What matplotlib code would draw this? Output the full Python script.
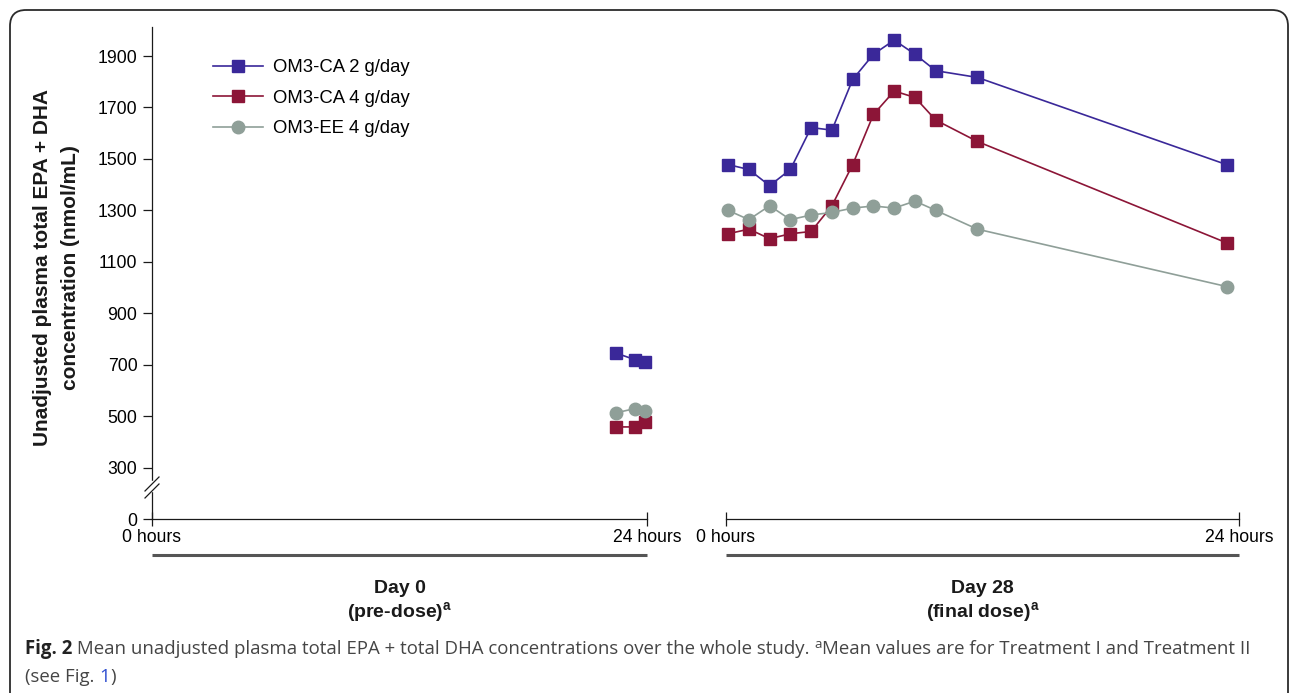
import matplotlib
matplotlib.use('Agg')
import matplotlib.pyplot as plt
from matplotlib.patches import FancyBboxPatch

plt.rcParams['font.family'] = ['Liberation Sans', 'DejaVu Sans']
plt.rcParams['mathtext.fontset'] = 'custom'
plt.rcParams['mathtext.rm'] = 'Liberation Sans'
plt.rcParams['mathtext.bf'] = 'Liberation Sans:bold'

# data
series_names = ['OM3-CA 2 g/day', 'OM3-CA 4 g/day', 'OM3-EE 4 g/day']
colors = ['#3a2899', '#8c1537', '#8f9f98']
markers = ['s', 's', 'o']

day0_hours = [22.5, 23.4, 23.9]
day0_values = [
    [745, 720, 712],
    [458, 458, 478],
    [513, 529, 521],
]

day28_hours = [0, 1, 2, 3, 4, 5, 6, 7, 8, 9, 10, 12, 24]
day28_values = [
    [1478, 1459, 1396, 1459, 1622, 1612, 1809, 1907, 1962, 1907, 1843, 1817, 1478],
    [1209, 1227, 1190, 1209, 1218, 1318, 1478, 1673, 1764, 1739, 1651, 1568, 1174],
    [1300, 1264, 1318, 1264, 1282, 1292, 1309, 1317, 1309, 1336, 1300, 1227, 1004],
]

ytick_values = [300, 500, 700, 900, 1100, 1300, 1500, 1700, 1900]
ytick_labels = ['0'] + [str(v) for v in ytick_values]
zero_pos = 100  # axis is broken: "0" sits one tick step under 300
ymax = 2013

fig = plt.figure(figsize=(12.9, 6.93), dpi=100)

# background axes in pixel units for frame, caption and group labels
bg = fig.add_axes([0, 0, 1, 1], zorder=0)
bg.set_xlim(0, 1290)
bg.set_ylim(693, 0)
bg.axis('off')
bg.add_patch(FancyBboxPatch((10, 10), 1278, 720, boxstyle='round,pad=0,rounding_size=16',
                            fill=False, ec='#2b2b2b', lw=1.3))

ax0 = fig.add_axes([152 / 1290, 174 / 693, 495 / 1290, 492 / 693], zorder=2)
ax1 = fig.add_axes([726 / 1290, 174 / 693, 513 / 1290, 492 / 693], zorder=2)

for ax in (ax0, ax1):
    ax.set_facecolor('none')
    ax.set_ylim(zero_pos, ymax)
    for s in ('top', 'right'):
        ax.spines[s].set_visible(False)
    for s in ('left', 'bottom'):
        ax.spines[s].set_linewidth(0.9)
        ax.spines[s].set_color('#1a1a1a')
    ax.tick_params(axis='x', direction='inout', length=10, width=0.9, color='#1a1a1a',
                   labelsize=12.7, pad=2)

lines = []
for i in range(3):
    ms = 9 if markers[i] == 'o' else 8
    ax0.plot(day0_hours, day0_values[i], color=colors[i], marker=markers[i], ms=ms,
             mec=colors[i], lw=1.2, clip_on=False, zorder=3)
    ln, = ax1.plot(day28_hours, day28_values[i], color=colors[i], marker=markers[i], ms=ms,
                   mec=colors[i], lw=1.2, clip_on=False, zorder=3)
    lines.append(ln)

ax0.set_xlim(0, 24)
ax0.set_xticks([0, 24], ['0 hours', '24 hours'])
ax0.set_yticks([zero_pos] + ytick_values, ytick_labels)
ax0.tick_params(axis='y', direction='out', length=6.5, width=0.9, color='#1a1a1a',
                labelsize=12.7, pad=4)

ax1.set_xlim(-0.1, 24.6)
ax1.set_xticks(ax1.get_xlim(), ['0 hours', '24 hours'])
ax1.spines['left'].set_visible(False)
ax1.set_yticks([])

# axis break marks
bg_tr = bg.transData
ax0.fill([148, 156, 156, 148], [481, 481, 491, 491], color='white', transform=bg_tr,
         clip_on=False, zorder=5)
for dy in (0, 7):
    ax0.plot([145, 159], [491 + dy, 477 + dy], color='#1a1a1a', lw=0.9,
             transform=bg_tr, clip_on=False, zorder=6)

ax0.legend(lines, series_names, loc='upper left', bbox_to_anchor=(0.123, 0.935),
           frameon=False, fontsize=13.3, handlelength=2.7, handletextpad=0.55,
           labelspacing=0.74, borderaxespad=0, borderpad=0)

bg.text(57, 268, 'Unadjusted plasma total EPA + DHA\nconcentration (nmol/mL)',
        rotation=90, ha='center', va='center', fontsize=15, fontweight='bold',
        linespacing=1.6, color='#1a1a1a')

# group underlines and labels
for ax, title, sub in ((ax0, 'Day 0', '(pre-dose)$^{\\mathbf{a}}$'),
                       (ax1, 'Day 28', '(final dose)$^{\\mathbf{a}}$')):
    ax.plot([0, 1], [-0.073, -0.073], transform=ax.transAxes, color='#555555', lw=2.2,
            clip_on=False, solid_capstyle='butt')
    ax.text(0.5, -0.141, title, transform=ax.transAxes, ha='center', va='center',
            fontsize=14, fontweight='bold', color='#1a1a1a')
    ax.text(0.5, -0.19, sub, transform=ax.transAxes, ha='center', va='center',
            fontsize=14, fontweight='bold', color='#1a1a1a')

# caption
fig.canvas.draw()
renderer = fig.canvas.get_renderer()


def text_width(s, **kw):
    t = bg.text(0, 0, s + '|', **kw)
    w1 = t.get_window_extent(renderer).width
    t.set_text('|')
    w2 = t.get_window_extent(renderer).width
    t.remove()
    return w1 - w2


cap_font = ['Open Sans', 'DejaVu Sans']
cap_size = 13.4
reg = dict(family=cap_font, fontsize=cap_size, color='#454545')
pieces1 = [
    ('Fig. 2', dict(family=cap_font, fontsize=cap_size, fontweight='bold', color='#222222'), 0),
    (' Mean unadjusted plasma total EPA + total DHA concentrations over the whole study. ', reg, 0),
    ('a', dict(family=cap_font, fontsize=9.5, color='#454545'), -6),
    ('Mean values are for Treatment I and Treatment II', reg, 0),
]
pieces2 = [
    ('(see Fig. ', reg, 0),
    ('1', dict(family=cap_font, fontsize=cap_size, color='#2f4fd0'), 0),
    (')', reg, 0),
]
for pieces, base in ((pieces1, 654), (pieces2, 682)):
    x = 25
    for s, kw, dy in pieces:
        bg.text(x, base + dy, s, ha='left', va='baseline', **kw)
        x += text_width(s, **kw)

fig.savefig('out.png', dpi=100)
